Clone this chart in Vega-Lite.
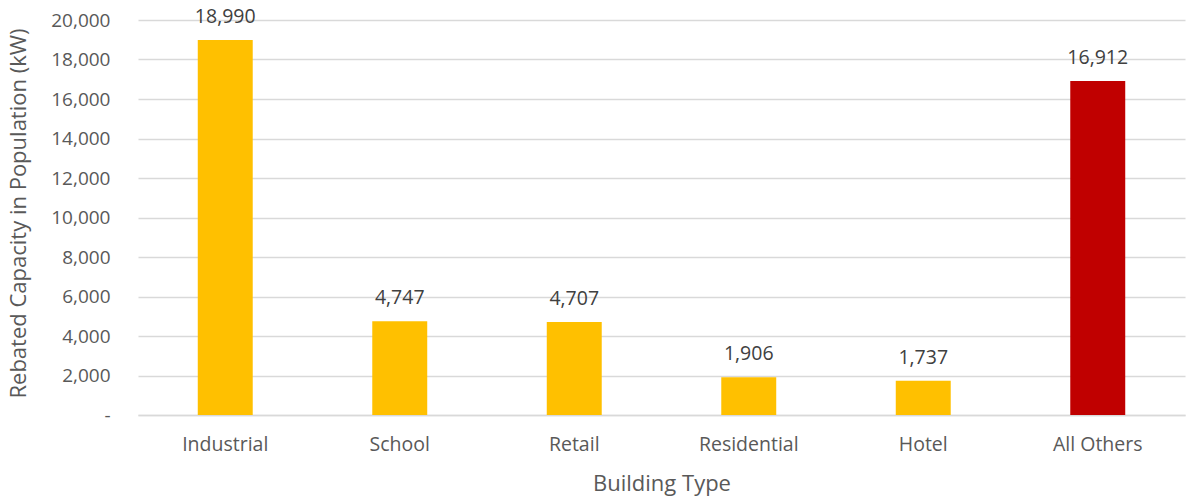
{
  "$schema": "https://vega.github.io/schema/vega-lite/v6.json",
  "width": 1047,
  "height": 395,
  "autosize": {"type": "none"},
  "padding": {"left": 138, "top": 20, "right": 1, "bottom": 84},
  "background": "white",
  "config": {
    "view": {"stroke": null},
    "font": "Open Sans"
  },
  "data": {
    "values": [
      {"type": "Industrial", "value": 18990, "group": "main"},
      {"type": "School", "value": 4747, "group": "main"},
      {"type": "Retail", "value": 4707, "group": "main"},
      {"type": "Residential", "value": 1906, "group": "main"},
      {"type": "Hotel", "value": 1737, "group": "main"},
      {"type": "All Others", "value": 16912, "group": "other"}
    ]
  },
  "encoding": {
    "x": {
      "field": "type",
      "type": "nominal",
      "sort": null,
      "scale": {"paddingInner": 0.685, "paddingOuter": 0.3425},
      "axis": {
        "title": "Building Type",
        "titleFont": "Open Sans",
        "titleFontSize": 22,
        "titleFontWeight": "normal",
        "titleColor": "#595959",
        "titlePadding": 20,
        "labelAngle": 0,
        "labelFont": "Open Sans",
        "labelFontSize": 19.5,
        "labelColor": "#595959",
        "labelPadding": 20,
        "ticks": false,
        "domain": true,
        "domainColor": "#D9D9D9",
        "domainWidth": 1.5,
        "grid": false
      }
    },
    "y": {
      "field": "value",
      "type": "quantitative",
      "scale": {"domain": [0, 20000], "nice": false},
      "axis": {
        "title": "Rebated Capacity in Population (kW)",
        "titleFont": "Open Sans",
        "titleFontSize": 22,
        "titleFontWeight": "normal",
        "titleColor": "#595959",
        "titleX": -120,
        "titleY": 193,
        "titleAlign": "center",
        "titleBaseline": "middle",
        "titleAngle": -90,
        "values": [0, 2000, 4000, 6000, 8000, 10000, 12000, 14000, 16000, 18000, 20000],
        "labelExpr": "datum.value == 0 ? '-\u00a0\u00a0\u00a0' : format(datum.value, ',')",
        "labelFont": "Open Sans",
        "labelFontSize": 19,
        "labelColor": "#595959",
        "labelPadding": 28,
        "ticks": false,
        "domain": false,
        "grid": true,
        "gridColor": "#D9D9D9",
        "gridWidth": 1.5
      }
    }
  },
  "layer": [
    {
      "mark": {"type": "bar"},
      "encoding": {
        "color": {
          "field": "group",
          "type": "nominal",
          "scale": {"domain": ["main", "other"], "range": ["#FFC000", "#C00000"]},
          "legend": null
        }
      }
    },
    {
      "mark": {"type": "text", "dy": -17, "baseline": "alphabetic", "fontSize": 19.5, "color": "#404040", "font": "Open Sans"},
      "encoding": {
        "text": {"field": "value", "type": "quantitative", "format": ","}
      }
    }
  ]
}
